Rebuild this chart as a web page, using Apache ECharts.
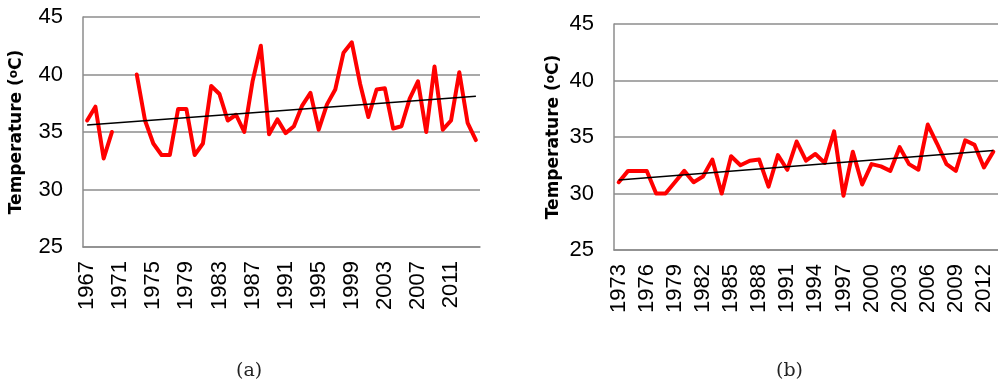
<!DOCTYPE html>
<html>
<head>
<meta charset="utf-8">
<script src="https://cdn.jsdelivr.net/npm/echarts@6/dist/echarts.min.js"></script>
<style>html,body{margin:0;padding:0;background:#fff;}#c{width:998px;height:390px;}</style>
</head>
<body>
<div id="c"></div>
<script>
// ---------- Data (a) ----------
var yearsA = ['1967','1968','1969','1970','1971','1972','1973','1974','1975','1976','1977','1978','1979','1980','1981','1982','1983','1984','1985','1986','1987','1988','1989','1990','1991','1992','1993','1994','1995','1996','1997','1998','1999','2000','2001','2002','2003','2004','2005','2006','2007','2008','2009','2010','2011','2012','2013','2014'];
var tempA = [36.0,37.2,32.7,35.0,null,null,40.0,36.0,34.0,33.0,33.0,37.0,37.0,33.0,34.0,39.0,38.3,36.0,36.5,35.0,39.4,42.5,34.8,36.1,34.9,35.5,37.3,38.4,35.2,37.4,38.7,41.9,42.8,39.2,36.3,38.7,38.8,35.3,35.5,37.9,39.4,35.0,40.7,35.2,36.0,40.2,35.8,34.3];
var trendA = [35.6, 38.1];

// ---------- Data (b) ----------
var yearsB = ['1973','1974','1975','1976','1977','1978','1979','1980','1981','1982','1983','1984','1985','1986','1987','1988','1989','1990','1991','1992','1993','1994','1995','1996','1997','1998','1999','2000','2001','2002','2003','2004','2005','2006','2007','2008','2009','2010','2011','2012','2013'];
var tempB = [31.0,32.0,32.0,32.0,30.0,30.0,31.0,32.0,31.0,31.5,33.0,30.0,33.3,32.5,32.9,33.0,30.6,33.4,32.1,34.6,32.9,33.5,32.7,35.5,29.8,33.7,30.8,32.6,32.4,32.0,34.1,32.6,32.1,36.1,34.4,32.6,32.0,34.7,34.3,32.3,33.7];
var trendB = [31.2, 33.8];

var yTicks = {min: 25, max: 45, interval: 5};
var axisTitle = 'Temperature ({sup|o}C)';

var gridColor = '#8c8c8c';
var labelFont = '"Liberation Sans", Arial, sans-serif';

function makeX(idx, cats, labelInterval) {
  return {
    type: 'category', gridIndex: idx, data: cats, boundaryGap: true,
    axisLine: {lineStyle: {color: gridColor, width: 1.5}},
    axisTick: {show: false},
    axisLabel: {interval: labelInterval, rotate: 90, fontFamily: labelFont, fontSize: 22, color: '#000', margin: 14}
  };
}
function makeY(idx, gap) {
  return {
    type: 'value', gridIndex: idx, min: yTicks.min, max: yTicks.max, interval: yTicks.interval,
    axisLine: {show: true, lineStyle: {color: gridColor, width: 1.5}},
    axisTick: {show: false},
    splitLine: {lineStyle: {color: gridColor, width: 1.5}},
    axisLabel: {fontFamily: labelFont, fontSize: 22, color: '#000', margin: 20},
    name: axisTitle, nameLocation: 'middle', nameGap: gap, nameRotate: 90,
    nameTextStyle: {fontFamily: '"DejaVu Sans", sans-serif', fontWeight: 'bold', fontSize: 17, color: '#000',
      rich: {sup: {fontFamily: '"DejaVu Sans", sans-serif', fontWeight: 'bold', fontSize: 12, verticalAlign: 'top', padding: [0,0,6,0]}}}
  };
}
function makeSeries(idx, cats, vals, trend) {
  return {
    type: 'line', xAxisIndex: idx, yAxisIndex: idx, data: vals, symbol: 'none', connectNulls: false,
    lineStyle: {color: '#ff0000', width: 4, join: 'round', cap: 'round'},
    markLine: {
      silent: true, symbol: 'none', label: {show: false},
      lineStyle: {color: '#000', width: 1.5, type: 'solid'},
      data: [[{coord: [cats[0], trend[0]]}, {coord: [cats[cats.length - 1], trend[1]]}]]
    }
  };
}

var chart = echarts.init(document.getElementById('c'), null, {renderer: 'canvas'});
chart.setOption({
  animation: false,
  grid: [
    {left: 83, top: 17, width: 397, height: 230},
    {left: 614, top: 24, width: 384, height: 226}
  ],
  xAxis: [makeX(0, yearsA, 3), makeX(1, yearsB, 2)],
  yAxis: [makeY(0, 57), makeY(1, 51)],
  series: [makeSeries(0, yearsA, tempA, trendA), makeSeries(1, yearsB, tempB, trendB)],
  graphic: [
    {type: 'text', left: 236, top: 362, style: {text: '(a)', font: '19px "DejaVu Serif"', fill: '#222'}},
    {type: 'text', left: 776, top: 362, style: {text: '(b)', font: '19px "DejaVu Serif"', fill: '#222'}}
  ]
});
</script>
</body>
</html>
